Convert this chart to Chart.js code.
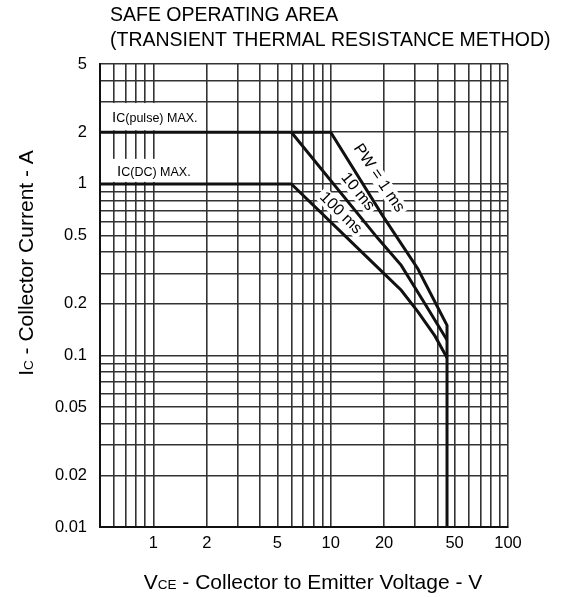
<!DOCTYPE html>
<html>
<head>
<meta charset="utf-8">
<script src="https://cdn.jsdelivr.net/npm/chart.js@4.4.1/dist/chart.umd.min.js"></script>
<style>
  html, body { margin: 0; padding: 0; background: #fff; }
  #wrap { position: relative; width: 561px; height: 597px; }
</style>
</head>
<body>
<div id="wrap"><canvas id="soa_chart"></canvas></div>
<script>
// tick labels
const xTickLabels = [1, 2, 5, 10, 20, 50, 100];
const yTickLabels = [0.01, 0.02, 0.05, 0.1, 0.2, 0.5, 1, 2, 5];

// PW = 1 ms (includes Ic(pulse) max and the 45 V limit)
const pw1msV = [0.5, 10, 19.5, 31, 45.3, 45.3];
const pw1msI = [2, 2, 0.66, 0.32, 0.15, 0.01];

// PW = 10 ms
const pw10msV = [6, 18.5, 25, 34, 45.3];
const pw10msI = [2, 0.48, 0.335, 0.2, 0.123];

// Ic(DC) max -> 100 ms
const pw100msV = [0.5, 6, 20, 25, 31, 38.7, 45.3];
const pw100msI = [1, 1, 0.3, 0.24, 0.18, 0.13, 0.097];

const FONT = "'Liberation Sans', Arial, Helvetica, sans-serif";

function gridValues(min, max) {
  let out = [];
  for (let e = -3; e <= 3; e++) {
    for (let m = 1; m <= 9; m++) {
      let v = Number((m * Math.pow(10, e)).toPrecision(6));
      if (v >= min - 1e-9 && v <= max + 1e-9) out.push(v);
    }
  }
  return out;
}

function isLabel(list, v) {
  return list.some(function (t) { return Math.abs(t - v) / t < 1e-6; });
}

function toPoints(xs, ys) {
  return xs.map(function (x, i) { return { x: x, y: ys[i] }; });
}

function curve(label, xs, ys) {
  return {
    label: label,
    data: toPoints(xs, ys),
    showLine: true,
    borderColor: "#111",
    backgroundColor: "#111",
    borderWidth: 3,
    pointRadius: 0,
    tension: 0,
    fill: false,
  };
}

// text with a small baseline "subscript" part
function drawSubText(ctx, parts, x, y, align) {
  let w = 0;
  parts.forEach(function (p) {
    ctx.font = p[1] + "px " + FONT;
    w += ctx.measureText(p[0]).width;
  });
  let cx = align === "center" ? x - w / 2 : x;
  ctx.textAlign = "left";
  ctx.textBaseline = "alphabetic";
  parts.forEach(function (p) {
    ctx.font = p[1] + "px " + FONT;
    ctx.fillText(p[0], cx, y);
    cx += ctx.measureText(p[0]).width;
  });
}

// text, V, A, angle
const pwLabels = [["PW = 1 ms", 18.7, 1.08, 56], ["10 ms", 14.2, 0.9, 51], ["100 ms", 11.4, 0.676, 45]];

const soaText = {
  id: "soaText",
  beforeDatasetsDraw(chart) {
    const c = chart.ctx, xs = chart.scales.x, ys = chart.scales.y;
    c.save();
    c.fillStyle = "#fff";
    // label boxes over the grid
    let l = xs.left + 1, r = xs.getPixelForValue(2) - 1;
    let t = ys.getPixelForValue(3) + 1, b = ys.getPixelForValue(2) - 2;
    c.fillRect(l, t, r - l, b - t);
    l = xs.left + 1; r = xs.getPixelForValue(1.85);
    t = ys.getPixelForValue(1.4); b = ys.getPixelForValue(1.0) - 2;
    c.fillRect(l, t, r - l, b - t);
    // boxes behind the rotated PW labels
    pwLabels.forEach(function (lb) {
      c.save();
      c.translate(xs.getPixelForValue(lb[1]), ys.getPixelForValue(lb[2]));
      c.rotate(lb[3] * Math.PI / 180);
      c.font = "16px " + FONT;
      const w = c.measureText(lb[0]).width;
      c.fillRect(-w / 2 - 3, -8, w + 6, 16);
      c.restore();
    });
    c.restore();
  },
  afterDatasetsDraw(chart) {
    const c = chart.ctx, xs = chart.scales.x, ys = chart.scales.y;
    c.save();
    c.fillStyle = "#000";
    drawSubText(c, [["I", 15], ["C(pulse) MAX.", 12.5]], xs.getPixelForValue(0.585), ys.getPixelForValue(2.3), "left");
    drawSubText(c, [["I", 15], ["C(DC) MAX.", 12.5]], xs.getPixelForValue(0.624), ys.getPixelForValue(1.11), "left");
    pwLabels.forEach(function (lb) {
      c.save();
      c.translate(xs.getPixelForValue(lb[1]), ys.getPixelForValue(lb[2]));
      c.rotate(lb[3] * Math.PI / 180);
      c.font = "16px " + FONT;
      c.textAlign = "center";
      c.textBaseline = "middle";
      c.fillText(lb[0], 0, 0);
      c.restore();
    });
    c.restore();
  },
  afterDraw(chart) {
    const c = chart.ctx;
    c.save();
    c.fillStyle = "#000";
    c.font = "19.5px " + FONT;
    c.textAlign = "left";
    c.textBaseline = "alphabetic";
    c.fillText("SAFE OPERATING AREA", 110, 21);
    c.fillText("(TRANSIENT THERMAL RESISTANCE METHOD)", 110, 46);
    drawSubText(c, [["V", 21], ["CE", 13.5], [" - Collector to Emitter Voltage - V", 21]], 313, 589, "center");
    c.translate(33, 263);
    c.rotate(-Math.PI / 2);
    drawSubText(c, [["I", 21], ["C", 13.5], [" - Collector Current - A", 21]], 0, 0, "center");
    c.restore();
  }
};

const ctx = document.getElementById("soa_chart").getContext("2d");
let chart = new Chart(ctx, {
  type: "scatter",
  data: {
    datasets: [
      curve("PW = 1 ms", pw1msV, pw1msI),
      curve("10 ms", pw10msV, pw10msI),
      curve("100 ms", pw100msV, pw100msI),
    ],
  },
  options: {
    responsive: true,
    maintainAspectRatio: false,
    animation: false,
    layout: { padding: { top: 64, right: 53, left: 0, bottom: 0 } },
    plugins: {
      legend: { display: false },
      tooltip: { enabled: false },
      title: { display: false },
    },
    scales: {
      x: {
        type: "logarithmic",
        min: 0.5,
        max: 100,
        afterBuildTicks: function (scale) {
          scale.ticks = gridValues(0.5, 100).map(function (v) { return { value: v }; });
        },
        afterFit: function (scale) { scale.height = 70; },
        ticks: {
          autoSkip: false,
          maxRotation: 0,
          padding: 7,
          color: "#000",
          font: { size: 16.5, family: FONT },
          callback: function (value) { return isLabel(xTickLabels, value) ? String(value) : ""; },
        },
        grid: { color: "#333", lineWidth: 1.6, drawTicks: false },
        border: { color: "#111", width: 2 },
      },
      y: {
        type: "logarithmic",
        min: 0.01,
        max: 5,
        afterBuildTicks: function (scale) {
          scale.ticks = gridValues(0.01, 5).map(function (v) { return { value: v }; });
        },
        afterFit: function (scale) { scale.width = 100; },
        ticks: {
          autoSkip: false,
          padding: 13,
          color: "#000",
          font: { size: 16.5, family: FONT },
          callback: function (value) { return isLabel(yTickLabels, value) ? String(value) : ""; },
        },
        grid: { color: "#333", lineWidth: 1.6, drawTicks: false },
        border: { color: "#111", width: 2 },
      },
    },
  },
  plugins: [soaText],
});
</script>
</body>
</html>
